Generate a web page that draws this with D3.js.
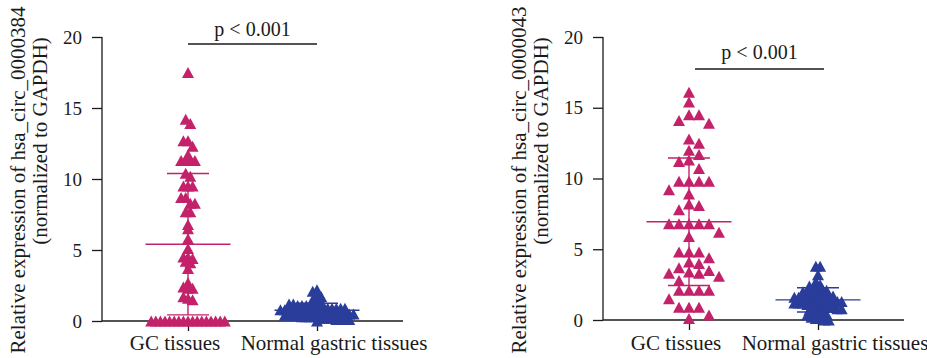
<!DOCTYPE html>
<html><head><meta charset="utf-8">
<script src="https://cdn.jsdelivr.net/npm/d3@7"></script>
<style>body{margin:0;background:#fff} svg{display:block}</style>
</head><body><svg id="c" width="927" height="358"></svg>
<script>
// ---------- data ----------
const categories = ["GC tissues", "Normal gastric tissues"];
const yTicks = [0, 5, 10, 15, 20];
const pLabel = "p < 0.001";
const titles0384 = ["Relative expression of hsa_circ_0000384", "(normalized to GAPDH)"];
const titles0043 = ["Relative expression of hsa_circ_0000043", "(normalized to GAPDH)"];

const gc0384 = [17.5, 14.2, 13.9, 12.7, 12.7, 12.3, 11.7, 11.3, 11.3, 11.3, 11.3, 10.4, 10.2,
  9.5, 9.5, 9.5, 8.7, 8.7, 8.3, 8.3, 7.7, 7.7, 6.8, 6.5, 5.8, 5.1, 4.5, 4.5, 4.4, 4.2, 4.1, 3.7,
  2.7, 2.4, 2.3, 2.3, 1.7, 1.6, 1.5, 0, 0, 0, 0, 0, 0, 0, 0, 0, 0, 0, 0, 0, 0, 0, 0, 0];
const normal0384 = [2.2, 2.1, 1.9, 1.7, 1.5, 1.4, 1.3, 1.2, 1.2, 1.1, 1.1, 1.1, 1.0, 1.0, 1.0, 1.0,
  0.9, 0.9, 0.9, 0.9, 0.9, 0.8, 0.8, 0.8, 0.8, 0.8, 0.7, 0.7, 0.7, 0.7, 0.6, 0.6, 0.6, 0.6, 0.6,
  0.5, 0.5, 0.5, 0.5, 0.4, 0.4, 0.4, 0.4, 0.3, 0.3, 0.3, 0.3, 0.2, 0.2, 0.2, 0.2, 0.1, 0.1, 0.1, 0.1, 0.0];
const gc0043 = [16.1, 15.4, 14.5, 14.5, 14.1, 13.9, 12.8, 12.5, 12.0, 11.7, 11.3, 11.2, 10.7,
  9.8, 9.8, 9.8, 9.8, 9.2, 8.9, 8.2, 8.1, 7.8, 6.8, 6.8, 6.8, 6.8, 6.8, 6.2, 5.9, 4.8, 4.8, 4.8,
  4.4, 4.1, 4.0, 3.7, 3.5, 3.4, 3.3, 3.3, 3.1, 2.8, 2.1, 2.1, 2.1, 2.1, 1.5, 0.9, 0.9, 0.9, 0.35, 0.1];
const normal0043 = [3.8, 3.8, 3.2, 2.7, 2.5, 2.4, 2.3, 2.2, 2.2, 2.1, 2.0, 2.0, 1.9, 1.9, 1.8, 1.8,
  1.7, 1.7, 1.6, 1.6, 1.6, 1.5, 1.5, 1.5, 1.4, 1.4, 1.4, 1.3, 1.3, 1.3, 1.2, 1.2, 1.2, 1.1, 1.1,
  1.0, 1.0, 1.0, 0.9, 0.9, 0.8, 0.8, 0.7, 0.7, 0.6, 0.5, 0.4, 0.35, 0.2, 0.1, 0.1, 0.0, 0.0];

// ---------- style ----------
const PINK = "#c3226a", BLUE = "#2b3d9b", INK = "#1a1a1a";
const FONT = "'Liberation Serif', 'Times New Roman', serif";
const svg = d3.select("#c");

const tri = "M0,-5.5L6,5.5L-6,5.5Z";

// row-binned layout
function swarmBins(values, y, step, binPx) {
  const pts = values.map(v => ({ v, y: y(v) }));
  const bins = d3.group(pts, p => Math.round(p.y / binPx));
  for (const arr of bins.values()) {
    const n = arr.length;
    arr.forEach((p, i) => { p.dx = (i - (n - 1) / 2) * step; });
  }
  return pts;
}
// collision-avoiding layout
function swarmCollide(values, y, step, h) {
  const placed = [];
  values.forEach(v => {
    const py = y(v);
    for (let k = 0; k < 40; k++) {
      const m = k === 0 ? 0 : (k % 2 ? Math.ceil(k / 2) : -Math.ceil(k / 2));
      const dx = m * step;
      const hit = placed.some(p => Math.abs(p.y - py) < h && Math.abs(p.dx - dx) < step - 0.01);
      if (!hit) { placed.push({ v, y: py, dx }); break; }
    }
  });
  return placed;
}

function panel(cfg) {
  const g = svg.append("g");
  const y = d3.scaleLinear().domain([0, 20]).range([cfg.y0, cfg.y20]);
  const x = d3.scalePoint().domain(categories).range([cfg.ax + 86, cfg.ax + 215]);

  const ya = g.append("g").attr("transform", `translate(${cfg.ax},0)`)
    .call(d3.axisLeft(y).tickValues(yTicks).tickSize(10).tickPadding(10).tickFormat(d3.format("d")));
  ya.select(".domain").attr("d", `M0,${cfg.y20}V${cfg.y0}`);
  ya.selectAll("line,path").attr("stroke", INK).attr("stroke-width", 1.3);
  ya.selectAll("text").attr("font-family", FONT).attr("font-size", 19).attr("fill", INK);

  const xa = g.append("g").attr("transform", `translate(0,${cfg.y0})`)
    .call(d3.axisBottom(x).tickSize(10).tickFormat(""));
  xa.select(".domain").attr("d", `M${cfg.ax},0H${cfg.ax + 301}`);
  xa.selectAll("line,path").attr("stroke", INK).attr("stroke-width", 1.3);

  const labOff = [-13, 17];
  g.selectAll("text.cat").data(categories).join("text").attr("class", "cat")
    .attr("x", (d, i) => x(d) + labOff[i]).attr("y", 350)
    .attr("text-anchor", "middle").attr("font-family", FONT).attr("font-size", 21).attr("fill", INK)
    .text(d => d);

  g.append("text").attr("transform", `translate(${cfg.ax - 77.5},180) rotate(-90)`)
    .attr("text-anchor", "middle").attr("font-family", FONT).attr("font-size", 21).attr("fill", INK)
    .text(cfg.titles[0]);
  g.append("text").attr("transform", `translate(${cfg.ax - 55},141) rotate(-90)`)
    .attr("text-anchor", "middle").attr("font-family", FONT).attr("font-size", 21).attr("fill", INK)
    .text(cfg.titles[1]);

  const px0 = x(categories[0]) + cfg.pShift, px1 = x(categories[1]) + cfg.pShift;
  g.append("line").attr("x1", px0).attr("x2", px1).attr("y1", cfg.pY).attr("y2", cfg.pY)
    .attr("stroke", INK).attr("stroke-width", 1.5);
  g.append("text").attr("x", (px0 + px1) / 2).attr("y", cfg.pY - cfg.pGap)
    .attr("text-anchor", "middle").attr("font-family", FONT).attr("font-size", 20).attr("fill", INK)
    .text(pLabel);

  cfg.groups.forEach((grp, gi) => {
    const cx = x(categories[gi]);
    const pts = grp.mode === "collide" ? swarmCollide(grp.values, y, grp.step, grp.bin)
                                       : swarmBins(grp.values, y, grp.step, grp.bin);
    g.append("g").selectAll("path").data(pts).join("path")
      .attr("d", tri).attr("fill", grp.color)
      .attr("transform", d => `translate(${cx + d.dx},${d.y})`);
    const m = d3.mean(grp.values), sd = d3.deviation(grp.values);
    const lg = g.append("g").attr("stroke", grp.color).attr("stroke-width", 1.4).attr("fill", "none");
    lg.append("line").attr("x1", cx - 42.5).attr("x2", cx + 42.5).attr("y1", y(m)).attr("y2", y(m));
    [m - sd, m + sd].forEach(v => {
      lg.append("line").attr("x1", cx - 21).attr("x2", cx + 21).attr("y1", y(v)).attr("y2", y(v));
    });
    lg.append("line").attr("x1", cx).attr("x2", cx).attr("y1", y(m - sd)).attr("y2", y(m + sd));
  });
}

panel({ ax: 102, y0: 321, y20: 37, titles: titles0384, pY: 44, pGap: 8, pShift: 0,
  groups: [{ values: gc0384, color: PINK, step: 4.6, bin: 8, mode: "bins" },
           { values: normal0384, color: BLUE, step: 4.3, bin: 6, mode: "bins" }] });
panel({ ax: 603, y0: 320, y20: 37, titles: titles0043, pY: 69, pGap: 10, pShift: 6,
  groups: [{ values: gc0043, color: PINK, step: 10, bin: 9, mode: "collide" },
           { values: normal0043, color: BLUE, step: 4.3, bin: 6, mode: "bins" }] });
</script></body></html>
